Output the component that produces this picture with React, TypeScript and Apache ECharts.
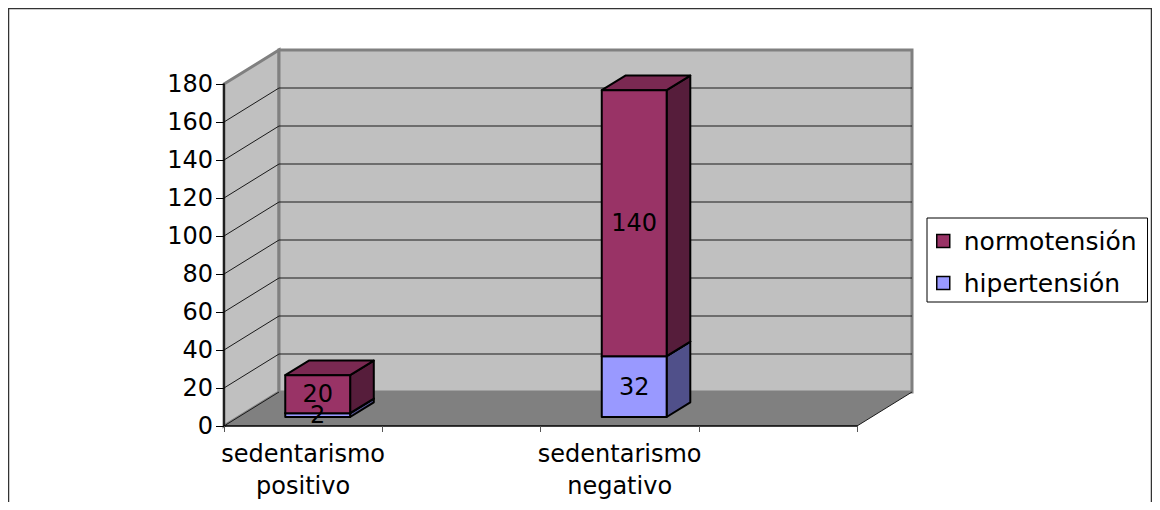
import React, { useEffect, useRef } from "react";
import * as echarts from "echarts";

// Categories along the floor (two of the four slots carry no bar)
const CATEGORIES = ["sedentarismo\npositivo", "", "sedentarismo\nnegativo", ""];
const HIPERTENSION: (number | null)[] = [2, null, 32, null];
const NORMOTENSION: (number | null)[] = [20, null, 140, null];
const Y_TICKS = [0, 20, 40, 60, 80, 100, 120, 140, 160, 180];

const NAME_NORMO = "normotensión";
const NAME_HIPER = "hipertensión";

const FONT = "DejaVu Sans";

// Screen offset of the back plane relative to the front plane (pseudo 3D)
const DEPTH_X = 55;
const DEPTH_Y = -34;
// Bars sit inside the depth: front face position, depth and width (band fraction)
const BAR_FRONT = 0.265;
const BAR_DEPTH = 0.43;
const BAR_WIDTH = 0.41;

const WALL = "#c0c0c0";
const WALL_EDGE = "#808080";
const FLOOR = "#808080";

const NORMO_COLORS = { front: "#993366", side: "#561d3b", top: "#7a2952" };
const HIPER_COLORS = { front: "#9999ff", side: "#50508a", top: "#7a7acc" };

const Y_MIN = Y_TICKS[0];
const Y_MAX = Y_TICKS[Y_TICKS.length - 1];
const Y_STEP = Y_TICKS[1] - Y_TICKS[0];

// Edges of the plot box in pixels, derived from the axes
function frame(api: any) {
  const bw = api.size([1, 0])[0];
  const x0 = api.coord([0, Y_MIN])[0] - bw / 2;
  const x1 = api.coord([CATEGORIES.length - 1, Y_MIN])[0] + bw / 2;
  const yb = api.coord([0, Y_MIN])[1];
  const yt = api.coord([0, Y_MAX])[1];
  return { bw, x0, x1, yb, yt };
}

const renderWalls = (_p: any, api: any) => {
  const { x0, x1, yb, yt } = frame(api);
  return {
    type: "group",
    children: [
      {
        type: "polygon",
        shape: { points: [[x0, yt], [x0 + DEPTH_X, yt + DEPTH_Y], [x0 + DEPTH_X, yb + DEPTH_Y], [x0, yb]] },
        style: { fill: WALL, stroke: WALL_EDGE, lineWidth: 3 },
      },
      {
        type: "rect",
        shape: { x: x0 + DEPTH_X, y: yt + DEPTH_Y, width: x1 - x0, height: yb - yt },
        style: { fill: WALL, stroke: WALL_EDGE, lineWidth: 3 },
      },
    ],
  };
};

const renderGridLine = (_p: any, api: any) => {
  const { x0, x1 } = frame(api);
  const y = api.coord([0, api.value(1)])[1];
  return {
    type: "polyline",
    shape: { points: [[x0, y], [x0 + DEPTH_X, y + DEPTH_Y], [x1 + DEPTH_X, y + DEPTH_Y]] },
    style: { stroke: "#1a1a1a", lineWidth: 1, fill: null },
  };
};

const renderFloor = (_p: any, api: any) => {
  const { x0, x1, yb } = frame(api);
  return {
    type: "group",
    children: [
      {
        type: "polygon",
        shape: { points: [[x0, yb], [x1, yb], [x1 + DEPTH_X, yb + DEPTH_Y], [x0 + DEPTH_X, yb + DEPTH_Y]] },
        style: { fill: FLOOR },
      },
      {
        type: "line",
        shape: { x1: x0, y1: yb, x2: x0 + DEPTH_X, y2: yb + DEPTH_Y },
        style: { stroke: "#1a1a1a", lineWidth: 1 },
      },
      {
        type: "line",
        shape: { x1: x1, y1: yb, x2: x1 + DEPTH_X, y2: yb + DEPTH_Y },
        style: { stroke: "#1a1a1a", lineWidth: 1 },
      },
    ],
  };
};

function makeBarRenderer(colors: { front: string; side: string; top: string }) {
  return (_p: any, api: any) => {
    const i = api.value(0);
    const base = api.value(1);
    const top = api.value(2);
    const shown = api.value(3);
    const bw = api.size([1, 0])[0];
    const p0 = api.coord([i, base]);
    const p1 = api.coord([i, top]);
    const w = bw * BAR_WIDTH;
    const sx = DEPTH_X * BAR_FRONT;
    const sy = DEPTH_Y * BAR_FRONT;
    const dx = DEPTH_X * BAR_DEPTH;
    const dy = DEPTH_Y * BAR_DEPTH;
    const xL = p0[0] - w / 2 + sx;
    const xR = xL + w;
    const yB = p0[1] + sy;
    const yT = p1[1] + sy;
    const edge = { stroke: "#000", lineWidth: 2, lineJoin: "round" };
    return {
      type: "group",
      children: [
        {
          type: "polygon",
          shape: { points: [[xR, yB], [xR + dx, yB + dy], [xR + dx, yT + dy], [xR, yT]] },
          style: { fill: colors.side, ...edge },
        },
        {
          type: "polygon",
          shape: { points: [[xL, yT], [xR, yT], [xR + dx, yT + dy], [xL + dx, yT + dy]] },
          style: { fill: colors.top, ...edge },
        },
        {
          type: "rect",
          shape: { x: xL, y: yT, width: w, height: yB - yT },
          style: { fill: colors.front, ...edge },
        },
        {
          type: "text",
          z2: 100,
          x: (xL + xR) / 2,
          y: (yB + yT) / 2,
          style: {
            text: String(shown),
            fill: "#000",
            fontSize: 24,
            fontFamily: FONT,
            align: "center",
            verticalAlign: "middle",
          },
        },
      ],
    };
  };
}

export default function App() {
  const ref = useRef<HTMLDivElement>(null);

  useEffect(() => {
    if (!ref.current) return;
    const chart = echarts.init(ref.current, undefined, { renderer: "svg" });

    const hiperData: number[][] = [];
    const normoData: number[][] = [];
    CATEGORIES.forEach((_c, i) => {
      const h = HIPERTENSION[i];
      const n = NORMOTENSION[i];
      if (h != null) hiperData.push([i, 0, h, h]);
      if (n != null) {
        const b = h ?? 0;
        normoData.push([i, b, b + n, n]);
      }
    });

    chart.setOption({
      animation: false,
      backgroundColor: "#ffffff",
      textStyle: { fontFamily: FONT },
      grid: { left: 216, right: 295, top: 76, bottom: 76 },
      graphic: [
        {
          type: "rect",
          silent: true,
          shape: { x: 0.5, y: 0.5, width: 1143, height: 700 },
          style: { fill: "rgba(0,0,0,0)", stroke: "#333", lineWidth: 1.5 },
        },
      ],
      legend: {
        orient: "vertical",
        left: 919,
        top: 210,
        selectedMode: false,
        backgroundColor: "#ffffff",
        borderColor: "#000",
        borderWidth: 1,
        borderRadius: 0,
        padding: [9, 11, 5, 9],
        itemGap: 14,
        itemWidth: 13,
        itemHeight: 13,
        icon: "rect",
        textStyle: { fontSize: 25, lineHeight: 28, fontFamily: FONT, color: "#000", padding: [0, 0, 0, 9] },
        data: [
          { name: NAME_NORMO, itemStyle: { color: NORMO_COLORS.front, borderColor: "#000", borderWidth: 1.5 } },
          { name: NAME_HIPER, itemStyle: { color: HIPER_COLORS.front, borderColor: "#000", borderWidth: 1.5 } },
        ],
      },
      xAxis: {
        type: "category",
        data: CATEGORIES,
        boundaryGap: true,
        z: 10,
        axisLine: { show: true, lineStyle: { color: "#000", width: 1.5 } },
        axisTick: { show: true, interval: 0, length: 6, lineStyle: { color: "#555" } },
        axisLabel: {
          interval: 0,
          margin: 12,
          fontSize: 24,
          lineHeight: 32,
          fontFamily: FONT,
          color: "#000",
        },
        splitLine: { show: false },
      },
      yAxis: {
        type: "value",
        min: Y_MIN,
        max: Y_MAX,
        interval: Y_STEP,
        z: 10,
        axisLine: { show: true, lineStyle: { color: "#000", width: 1.5 } },
        axisTick: { show: true, length: 8, lineStyle: { color: "#000" } },
        axisLabel: { margin: 11, fontSize: 24, fontFamily: FONT, color: "#000" },
        splitLine: { show: false },
      },
      series: [
        {
          type: "custom",
          name: "walls",
          silent: true,
          clip: false,
          z: 1,
          renderItem: renderWalls,
          encode: { x: 0, y: 1 },
          data: [[0, Y_MIN]],
        },
        {
          type: "custom",
          name: "gridlines",
          silent: true,
          clip: false,
          z: 2,
          renderItem: renderGridLine,
          encode: { x: 0, y: 1 },
          data: Y_TICKS.filter((v) => v > Y_MIN && v < Y_MAX).map((v) => [0, v]),
        },
        {
          type: "custom",
          name: "floor",
          silent: true,
          clip: false,
          z: 3,
          renderItem: renderFloor,
          encode: { x: 0, y: 1 },
          data: [[0, Y_MIN]],
        },
        {
          type: "custom",
          name: NAME_HIPER,
          clip: false,
          z: 4,
          itemStyle: { color: HIPER_COLORS.front },
          renderItem: makeBarRenderer(HIPER_COLORS),
          encode: { x: 0, y: [1, 2] },
          data: hiperData,
        },
        {
          type: "custom",
          name: NAME_NORMO,
          clip: false,
          z: 4,
          itemStyle: { color: NORMO_COLORS.front },
          renderItem: makeBarRenderer(NORMO_COLORS),
          encode: { x: 0, y: [1, 2] },
          data: normoData,
        },
      ],
    });

    return () => chart.dispose();
  }, []);

  return <div ref={ref} style={{ width: 1144, height: 494 }} />;
}
